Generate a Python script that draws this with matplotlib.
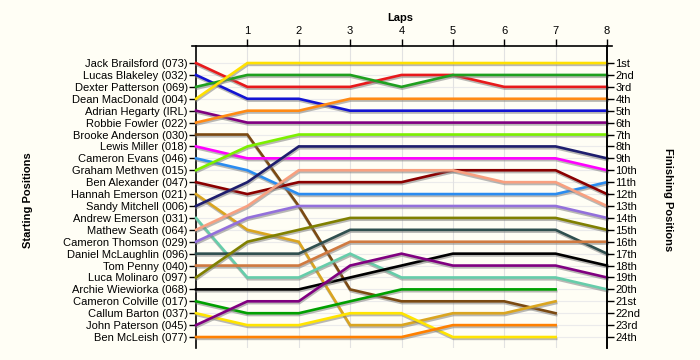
import numpy as np
import matplotlib
matplotlib.use("Agg")
import matplotlib.pyplot as plt
import matplotlib.patheffects as pe

plt.rcParams['font.family'] = ['Liberation Sans', 'DejaVu Sans']

laps = [0, 1, 2, 3, 4, 5, 6, 7, 8]
lap_ticks = [1, 2, 3, 4, 5, 6, 7, 8]

drivers = [
    "Jack Brailsford (073)", "Lucas Blakeley (032)", "Dexter Patterson (069)",
    "Dean MacDonald (004)", "Adrian Hegarty (IRL)", "Robbie Fowler (022)",
    "Brooke Anderson (030)", "Lewis Miller (018)", "Cameron Evans (046)",
    "Graham Methven (015)", "Ben Alexander (047)", "Hannah Emerson (021)",
    "Sandy Mitchell (006)", "Andrew Emerson (031)", "Mathew Seath (064)",
    "Cameron Thomson (029)", "Daniel McLaughlin (096)", "Tom Penny (040)",
    "Luca Molinaro (097)", "Archie Wiewiorka (068)", "Cameron Colville (017)",
    "Callum Barton (037)", "John Paterson (045)", "Ben McLeish (077)",
]

finish_labels = ["1st", "2nd", "3rd", "4th", "5th", "6th", "7th", "8th", "9th",
                 "10th", "11th", "12th", "13th", "14th", "15th", "16th", "17th",
                 "18th", "19th", "20th", "21st", "22nd", "23rd", "24th"]

nan = np.nan
positions = [
    [1, 3, 3, 3, 2, 2, 3, 3, 3],
    [2, 4, 4, 5, 5, 5, 5, 5, 5],
    [3, 2, 2, 2, 3, 2, 2, 2, 2],
    [4, 1, 1, 1, 1, 1, 1, 1, 1],
    [5, 6, 6, 6, 6, 6, 6, 6, 6],
    [6, 5, 5, 4, 4, 4, 4, 4, 4],
    [7, 7, 13, 20, 21, 21, 21, 22, nan],
    [8, 9, 9, 9, 9, 9, 9, 9, 10],
    [9, 10, 12, 12, 12, 12, 12, 12, 11],
    [10, 8, 7, 7, 7, 7, 7, 7, 7],
    [11, 12, 11, 11, 11, 10, 10, 10, 12],
    [12, 15, 16, 23, 23, 22, 22, 21, nan],
    [13, 11, 8, 8, 8, 8, 8, 8, 9],
    [14, 19, 19, 17, 19, 19, 19, 19, 20],
    [15, 13, 10, 10, 10, 10, 11, 11, 13],
    [16, 14, 13, 13, 13, 13, 13, 13, 14],
    [17, 17, 17, 15, 15, 15, 15, 15, 17],
    [18, 18, 18, 16, 16, 16, 16, 16, 16],
    [19, 16, 15, 14, 14, 14, 14, 14, 15],
    [20, 20, 20, 19, 18, 17, 17, 17, 18],
    [21, 22, 22, 21, 20, 20, 20, 20, nan],
    [22, 23, 23, 22, 22, 24, 24, 24, nan],
    [23, 21, 21, 18, 17, 18, 18, 18, 19],
    [24, 24, 24, 24, 24, 23, 23, 23, nan],
]

colors = [
    "#E8191B", "#1414D2", "#1FA01F", "#FFE000", "#800080", "#FF8A14",
    "#7B4A12", "#FF00FF", "#2A8CF0", "#7CF000", "#8B0000", "#DAA520",
    "#1E1E6E", "#66CDAA", "#F8A080", "#9370DB", "#2F4F4F", "#D07A40",
    "#808000", "#000000", "#00A000", "#FFE400", "#800080", "#FF8000",
]

FS = 8

fig = plt.figure(figsize=(7, 3.6), dpi=100, facecolor="#FFFEF5")
ax = fig.add_axes([196/700, 1-348/360, (607-196)/700, (348-46)/360])
ax.set_facecolor("#FFFEF5")

ymin, ymax = -0.43, 24.92
ax.set_xlim(0, 8)
ax.set_ylim(ymax, ymin)

# grid
for p in range(1, 25):
    ax.axhline(p, color="#EBEBEB", lw=0.8, zorder=0)
for l in lap_ticks[:-1]:
    ax.axvline(l, color="#E2E2E2", lw=0.8, zorder=0)

shadow = [pe.SimpleLineShadow(offset=(0.4, -1.3), shadow_color="#808080", alpha=0.55),
          pe.Normal()]
for pos, c in zip(positions, colors):
    ax.plot(laps, pos, color=c, lw=1.9, solid_joinstyle="miter",
            path_effects=shadow, zorder=3, clip_on=False)

# axes styling
ax.xaxis.tick_top()
ax.set_xticks(lap_ticks)
ax.set_xticklabels([str(l) for l in lap_ticks])
ax.tick_params(axis="x", direction="out", length=5, width=1, pad=2,
               labelsize=FS, colors="black")
ax.set_yticks(list(range(1, 25)))
ax.set_yticklabels(drivers)
ax.tick_params(axis="y", direction="out", length=5, width=1, pad=1,
               labelsize=FS)
ax.spines["bottom"].set_visible(False)
for s in ["top", "left", "right"]:
    ax.spines[s].set_linewidth(1.2)
ax.spines["top"].set_bounds(-0.08, 8.1)

ax2 = ax.twinx()
ax2.set_ylim(ymax, ymin)
ax2.set_yticks(list(range(1, 25)))
ax2.set_yticklabels(finish_labels)
ax2.tick_params(axis="y", direction="out", length=5, width=1, pad=1,
                labelsize=FS)
ax2.spines["bottom"].set_visible(False)
ax2.spines["top"].set_visible(False)
ax2.spines["left"].set_visible(False)
ax2.spines["right"].set_linewidth(1.2)

fig.text(400/700, 1-18/360, "Laps", ha="center", va="center",
         fontsize=FS, fontweight="bold")
fig.text(28/700, 1-200/360, "Starting Positions", ha="center", va="center",
         fontsize=FS, fontweight="bold", rotation=90)
fig.text(668/700, 1-200/360, "Finishing Positions", ha="center", va="center",
         fontsize=FS, fontweight="bold", rotation=-90)

fig.savefig("out.png", dpi=100, facecolor=fig.get_facecolor())
